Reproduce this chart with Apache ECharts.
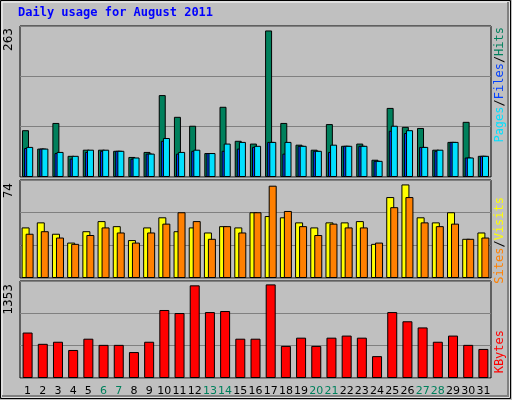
<!DOCTYPE html>
<html><head><meta charset="utf-8">
<script src="https://cdn.jsdelivr.net/npm/echarts@6/dist/echarts.min.js"></script>
<style>html,body{margin:0;padding:0;background:#c0c0c0}#c{width:512px;height:400px}</style>
</head><body><div id="c"></div>
<script>
const days = ['1','2','3','4','5','6','7','8','9','10','11','12','13','14','15','16','17','18','19','20','21','22','23','24','25','26','27','28','29','30','31'];
const weekend = ['6','7','13','14','20','21','27','28'];
const hits  = [84,51,97,38,49,49,47,36,45,147,108,92,43,126,65,60,263,97,58,49,95,56,60,31,124,90,88,49,63,99,38];
const files = [52,51,43,33,45,47,47,33,42,65,42,47,43,47,51,54,63,42,56,47,45,56,56,29,83,79,54,47,63,35,38];
const pages = [54,51,45,38,49,49,47,35,42,70,45,49,43,60,63,56,63,63,56,47,58,56,56,29,92,84,54,49,63,35,38];
const visits= [40,44,35,28,37,45,41,30,40,48,37,40,36,41,40,52,49,48,44,40,44,44,45,27,64,74,48,44,52,31,36];
const sites = [35,37,32,27,34,40,36,28,36,43,52,45,31,41,36,52,73,53,41,34,43,40,40,28,56,64,44,41,43,31,32];
const kbytes= [657,494,524,405,568,479,479,375,524,983,939,1339,953,968,568,568,1353,464,583,464,583,613,583,316,953,820,731,524,613,479,420];
const maxLabels = ['263','74','1353'];

const grids = [
  {left:20,right:21,top:26,height:151},
  {left:20,right:21,top:180,height:98},
  {left:20,right:21,top:281,height:97}
].map(g=>Object.assign(g,{show:true,backgroundColor:'#c0c0c0',borderColor:'#000',borderWidth:1}));
const maxes=[271,77.5,1402];
const xAxis=[0,1,2].map(i=>({type:'category',gridIndex:i,data:days,
  axisLine:{show:false},axisTick:{show:false},
  axisLabel:{show:i===2,margin:8,fontFamily:'DejaVu Sans',fontSize:11,interval:0,
    color:(v)=>weekend.includes(v)?'#00805c':'#000'}}));
const yAxis=[0,1,2].map(i=>({type:'value',gridIndex:i,min:0,max:maxes[i],interval:maxes[i]/3,
  axisLabel:{show:false},axisLine:{show:false},axisTick:{show:false},
  splitLine:{lineStyle:{color:'#808080',width:1}}}));
const bs={borderColor:'#000',borderWidth:1};
function bar(name,data,gi,color,w,gap){return {name,type:'bar',xAxisIndex:gi,yAxisIndex:gi,data,barWidth:w,barGap:gap,
  itemStyle:Object.assign({color},bs),animation:false,silent:true};}
const series=[
  bar('Hits',hits,0,'#00805c',7,'-70%'),
  bar('Files',files,0,'#0040ff',7,'-70%'),
  bar('Pages',pages,0,'#00e0ff',7,'-70%'),
  bar('Visits',visits,1,'#ffff00',8,'-50%'),
  bar('Sites',sites,1,'#ff8000',8,'-50%'),
  bar('KBytes',kbytes,2,'#ff0000',10,'0%')
];
const mono='DejaVu Sans Mono';
function vlabel(text,x,y){return {type:'text',x,y,rotation:Math.PI/2,style:{text,font:'12px DejaVu Sans',fill:'#000',align:'right',verticalAlign:'middle'}};}
function rlabel(rich,text,x,y){return {type:'text',x,y,rotation:Math.PI/2,style:{text,rich,font:'12px '+mono,align:'right',verticalAlign:'middle'}};}
const F='12px '+mono;
const graphic=[
  {type:'rect',shape:{x:0.5,y:0.5,width:510,height:398},style:{fill:'none',stroke:'#000',lineWidth:1}},
  {type:'rect',shape:{x:2,y:2,width:507,height:395},style:{fill:'none',stroke:'#fff',lineWidth:1}},
  {type:'polyline',shape:{points:[[2,396],[508,396],[508,2]]},style:{stroke:'#808080',lineWidth:2,fill:'none'}},
  {type:'text',x:18,y:7,style:{text:'Daily usage for August 2011',font:'bold 12px '+mono,fill:'#0000ff'}},
  vlabel(maxLabels[0],9,28),
  vlabel(maxLabels[1],9,183),
  vlabel(maxLabels[2],9,284),
  rlabel({p:{fill:'#00e0ff',font:F},f:{fill:'#0040ff',font:F},h:{fill:'#00805c',font:F},s:{fill:'#000',font:F}},
    '{p|Pages}{s|/}{f|Files}{s|/}{h|Hits}',500,27),
  rlabel({a:{fill:'#ff8000',font:F},b:{fill:'#ffff00',font:F},s:{fill:'#000',font:F}},
    '{a|Sites}{s|/}{b|Visits}',500,197),
  rlabel({k:{fill:'#ff0000',font:F}},'{k|KBytes}',500,330)
];
const chart=echarts.init(document.getElementById('c'));
chart.setOption({backgroundColor:'#c0c0c0',animation:false,grid:grids,xAxis,yAxis,series,graphic});
</script></body></html>
